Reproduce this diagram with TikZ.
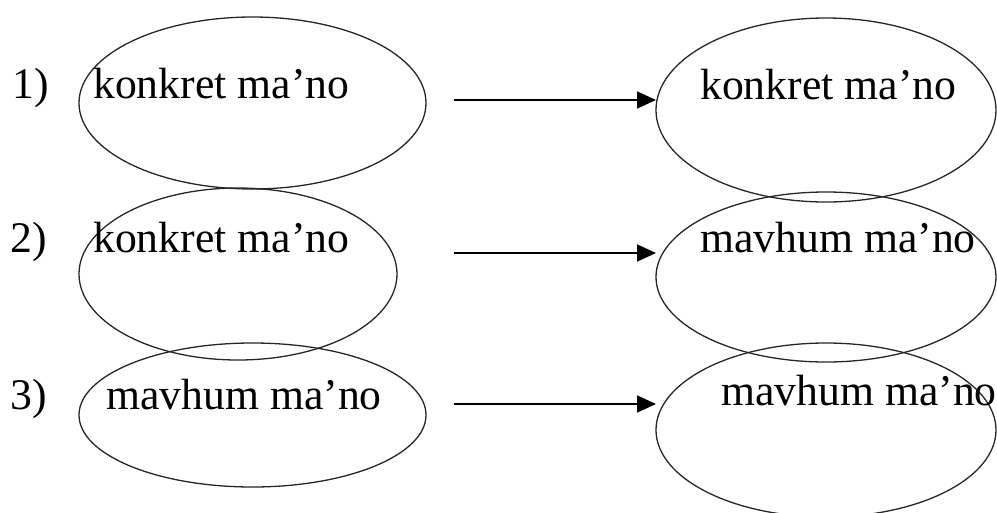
\documentclass[tikz,border=0pt]{standalone}
\usepackage{fontspec}
\setmainfont{Liberation Serif}
\usetikzlibrary{shapes.geometric,arrows.meta}
\begin{document}
\begin{tikzpicture}[x=1pt,y=-1pt,
  oval/.style={draw=black!85, line width=1.3pt, ellipse, inner sep=0pt, outer sep=0pt},
  word/.style={anchor=base west, inner sep=0pt, font=\fontsize{43.7}{50}\selectfont},
  arr/.style={draw=black, line width=1.8pt, -{Triangle[length=19pt,width=17pt]}}]
\useasboundingbox (0,0) rectangle (997,512);
\clip (0,0) rectangle (997,512);

% left column
\node[oval, minimum width=347pt, minimum height=172pt] (l1) at (252.5,103) {};
\node[oval, minimum width=318pt, minimum height=172pt] (l2) at (238,274) {};
\node[oval, minimum width=347pt, minimum height=144pt] (l3) at (252.5,415) {};

% right column
\node[oval, minimum width=340pt, minimum height=184pt] (r1) at (826,110) {};
\node[oval, minimum width=340pt, minimum height=170pt] (r2) at (826,277) {};
\node[oval, minimum width=340pt, minimum height=174pt] (r3) at (826,430) {};

% numbering
\node[word] (n1) at (12,98) {1)};
\node[word] (n2) at (10,252) {2)};
\node[word] (n3) at (10,409) {3)};

% texts
\node[word] (tl1) at (93,98) {konkret ma’no};
\node[word] (tl2) at (93,252) {konkret ma’no};
\node[word] (tl3) at (106,409) {mavhum ma’no};
\node[word] (tr1) at (700,99) {konkret ma’no};
\node[word] (tr2) at (700,252) {mavhum ma’no};
\node[word] (tr3) at (721,405) {mavhum ma’no};

% arrows
\coordinate (s1) at (454,100);
\coordinate (s2) at (454,253);
\coordinate (s3) at (454,404);
\draw[arr] (s1) -- (s1 -| r1.west);
\draw[arr] (s2) -- (s2 -| r2.west);
\draw[arr] (s3) -- (s3 -| r3.west);
\end{tikzpicture}
\end{document}
